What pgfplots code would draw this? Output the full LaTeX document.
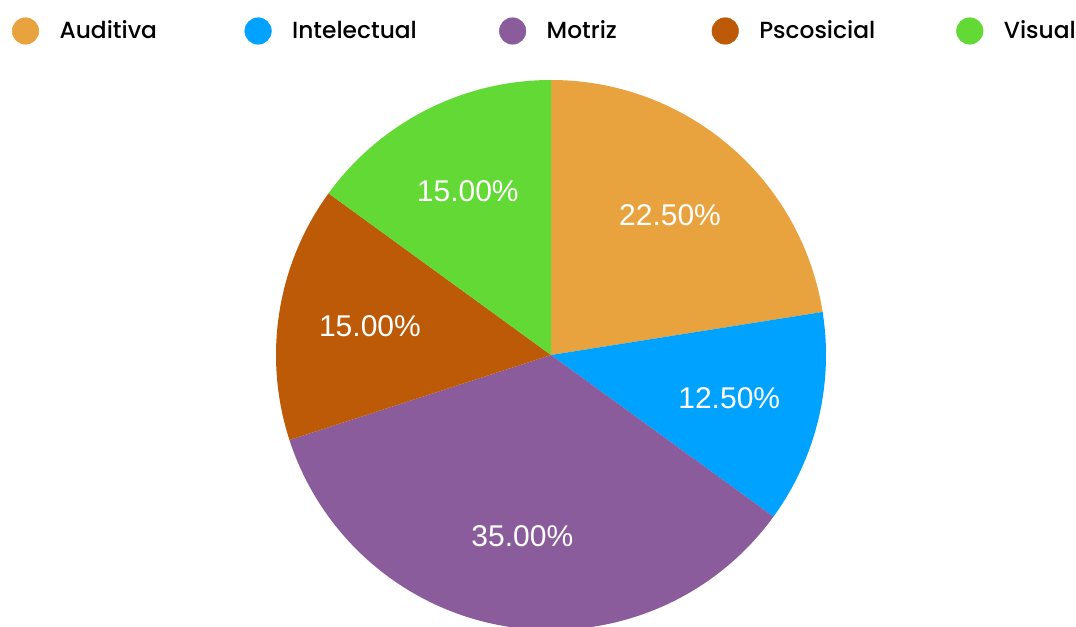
\documentclass[border=0pt]{standalone}
\usepackage{pgfplots}
\usepackage{pgfplotstable}
\pgfplotsset{compat=1.18}
\usepackage{fontspec}
\setmainfont{Poppins}[UprightFont={* Medium}]
\newfontfamily\labfont{Liberation Sans}
\definecolor{cA}{HTML}{E8A33E}
\definecolor{cI}{HTML}{00A2FF}
\definecolor{cM}{HTML}{8B5C9B}
\definecolor{cP}{HTML}{BC5A07}
\definecolor{cV}{HTML}{63D936}
\pgfplotstableread{
label value color
Auditiva 22.5 cA
Intelectual 12.5 cI
Motriz 35 cM
Pscosicial 15 cP
Visual 15 cV
}\piedata
\begin{document}
\begin{tikzpicture}
\useasboundingbox (0,0) rectangle (807pt,469.5pt);
\begin{axis}[
  at={(0,0)}, anchor=south west,
  scale only axis, width=807pt, height=469.5pt,
  xmin=0, xmax=1076, ymin=0, ymax=626,
  hide axis, clip=false,
  legend columns=5,
  legend image code/.code={\fill (9.94pt,0pt) circle (9.94pt);},
  legend style={draw=none, fill=none, inner sep=0pt, outer sep=0pt,
    nodes={inner sep=0pt, outer sep=0pt},
    font=\fontsize{17.5pt}{21pt}\selectfont,
    at={(axis cs:12,595)}, anchor=west,
    /tikz/every odd column/.append style={column sep=15.4pt},
    /tikz/every even column/.append style={column sep=65.25pt}},
]
\addlegendimage{cA}\addlegendentry{\makebox[73.5pt][l]{Auditiva}}
\addlegendimage{cI}\addlegendentry{\makebox[90pt][l]{Intelectual}}
\addlegendimage{cM}\addlegendentry{\makebox[58.5pt][l]{Motriz}}
\addlegendimage{cP}\addlegendentry{\makebox[82.5pt][l]{Pscosicial}}
\addlegendimage{cV}\addlegendentry{\makebox[53pt][l]{Visual}}
\def\cum{0}
\pgfplotsforeachungrouped \i in {0,...,4}{%
  \pgfplotstablegetelem{\i}{value}\of\piedata \let\v\pgfplotsretval
  \pgfplotstablegetelem{\i}{color}\of\piedata \let\c\pgfplotsretval
  \pgfmathsetmacro\a{90-3.6*\cum}%
  \pgfmathsetmacro\b{90-3.6*(\cum+\v)}%
  \pgfmathsetmacro\m{(\a+\b)/2}%
  \edef\temp{%
    \noexpand\fill[\c] (axis cs:551,271) -- ++(\a:206.25pt) arc[start angle=\a, end angle=\b, radius=206.25pt] -- cycle;
    \noexpand\node[text=white, font=\noexpand\labfont\noexpand\fontsize{22.5pt}{27pt}\noexpand\selectfont, inner sep=0pt] at ([shift={(\m:137.5pt)}]axis cs:551,271) {\noexpand\pgfmathprintnumber[fixed, fixed zerofill, precision=2, assume math mode=true]{\v}\noexpand\%};
  }%
  \temp
  \pgfmathsetmacro\cum{\cum+\v}%
}
\end{axis}
\end{tikzpicture}
\end{document}
